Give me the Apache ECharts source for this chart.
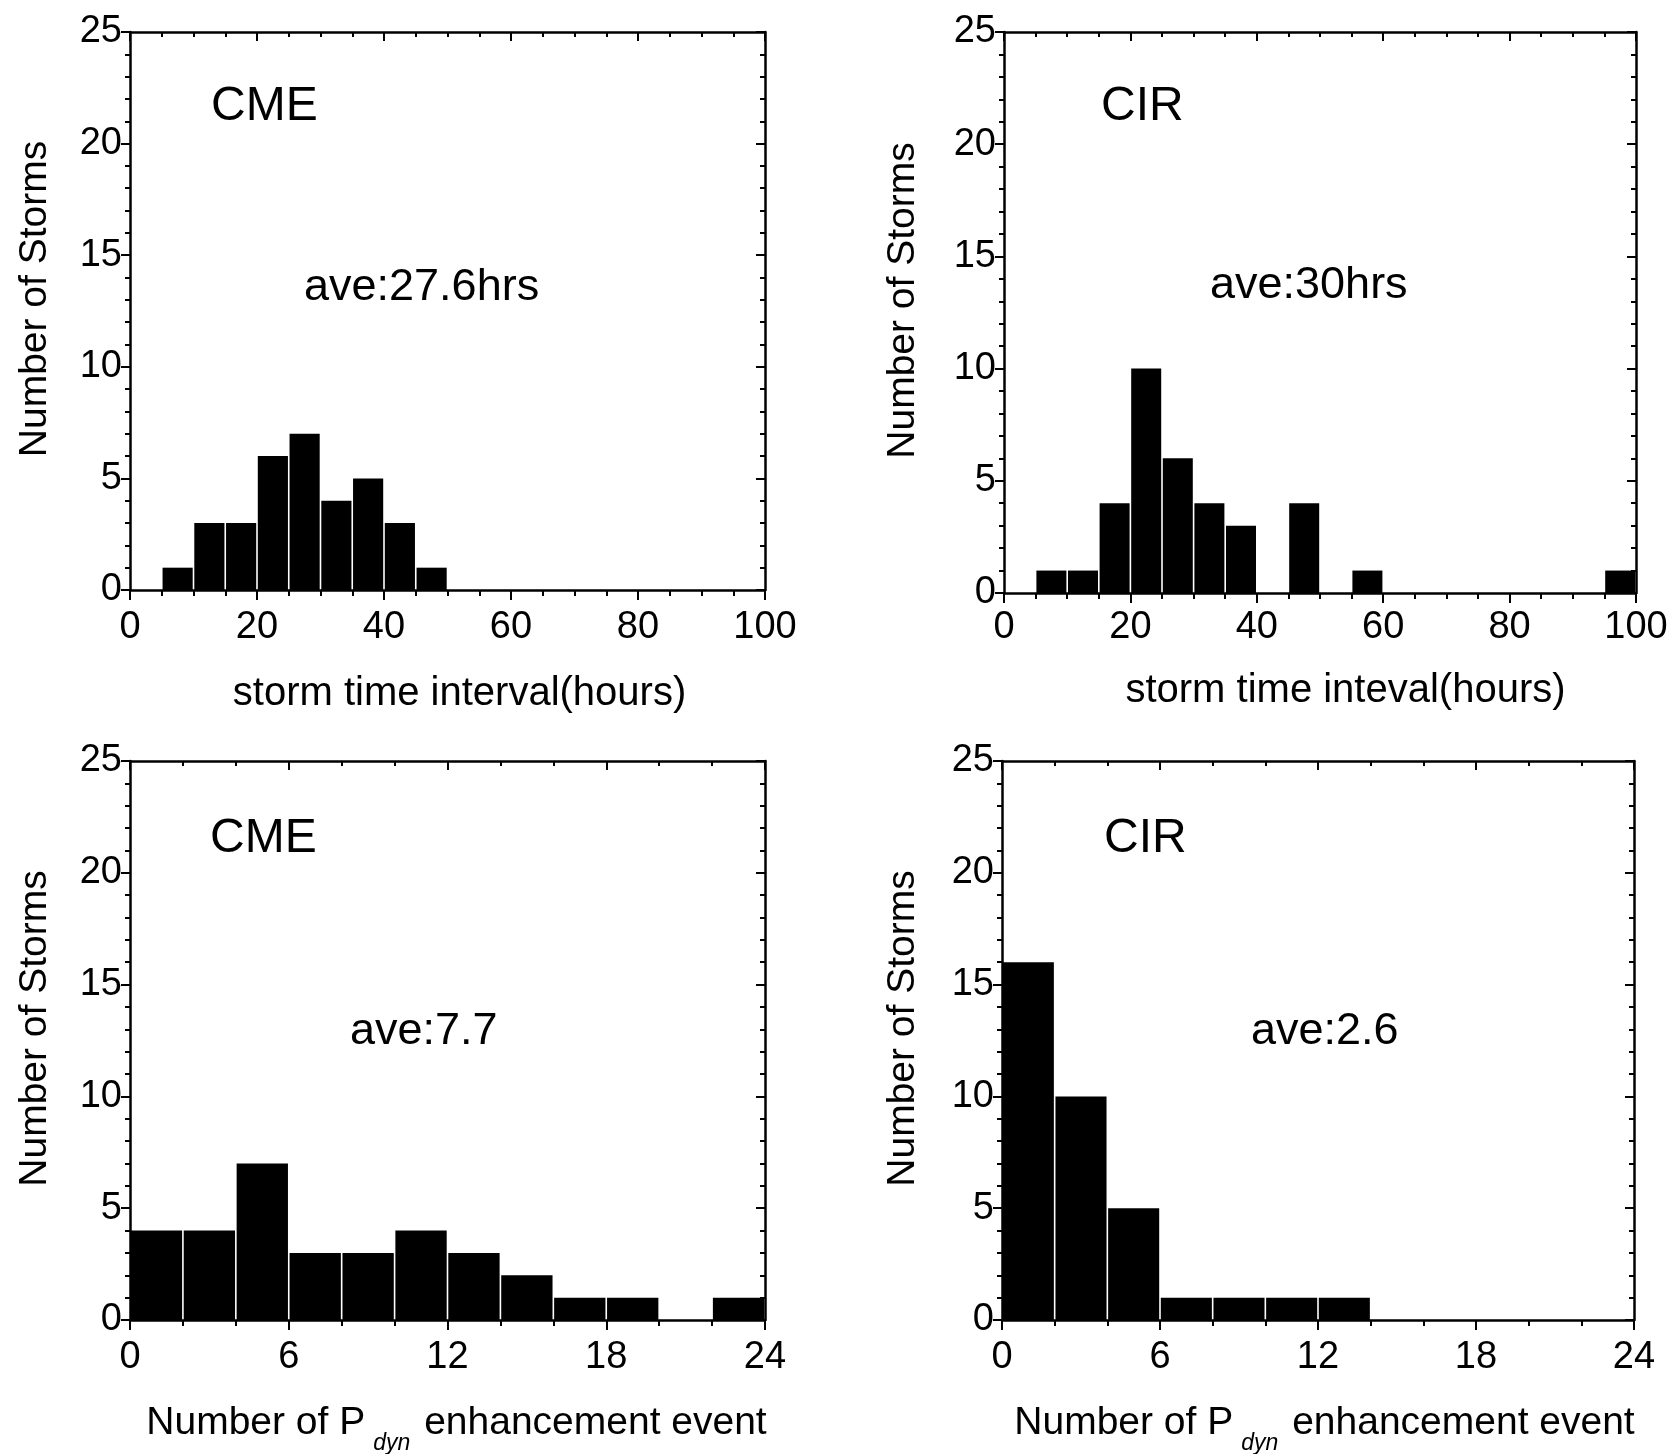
<!DOCTYPE html>
<html><head><meta charset="utf-8">
<script src="https://cdn.jsdelivr.net/npm/echarts@6/dist/echarts.min.js"></script>
<style>html,body{margin:0;padding:0;background:#fff}#c{width:1672px;height:1454px}</style>
</head><body><div id="c"></div><script>
// ---- data ----
const intervalBinStarts = [0,5,10,15,20,25,30,35,40,45,50,55,60,65,70,75,80,85,90,95];
const intervalBinWidth = 5;
const cmeIntervalCounts = [0,1,3,3,6,7,4,5,3,1,0,0,0,0,0,0,0,0,0,0];
const cirIntervalCounts = [0,1,1,4,10,6,4,3,0,4,0,1,0,0,0,0,0,0,0,1];
const pdynBinStarts = [0,2,4,6,8,10,12,14,16,18,20,22];
const pdynBinWidth = 2;
const cmePdynCounts = [4,4,7,3,3,4,3,2,1,1,0,1];
const cirPdynCounts = [16,10,5,1,1,1,1,0,0,0,0,0];
const intervalTicks = [0,20,40,60,80,100];
const pdynTicks = [0,6,12,18,24];
const countTicks = [0,5,10,15,20,25];
const panelTypes = ['CME','CIR','CME','CIR'];
const panelAverages = ['ave:27.6hrs','ave:30hrs','ave:7.7','ave:2.6'];
const xTitles = ['storm time interval(hours)','storm time inteval(hours)',
  '{n|Number of P}{s|dyn}{n| enhancement event}','{n|Number of P}{s|dyn}{n| enhancement event}'];
const yTitle = 'Number of Storms';

// ---- build ----
const FONT = "'Liberation Sans', Arial, Helvetica, sans-serif";
const grids = [
  {left:130, top:32, width:635, height:558, outerBoundsMode:'none', containLabel:false},
  {left:1004, top:32, width:632, height:561, outerBoundsMode:'none', containLabel:false},
  {left:130, top:761, width:635, height:559, outerBoundsMode:'none', containLabel:false},
  {left:1002, top:761, width:632, height:559, outerBoundsMode:'none', containLabel:false}
];
const xNameShift = [24, 51, 18, 13];
const xNameGap = [84, 78, 84, 84];
const xLabelMargin = [19, 16, 19, 19];
const yNameGap = [75, 81, 75, 79];
const panels = [
  {starts:intervalBinStarts, w:intervalBinWidth, counts:cmeIntervalCounts, ticks:intervalTicks, minorSplit:4},
  {starts:intervalBinStarts, w:intervalBinWidth, counts:cirIntervalCounts, ticks:intervalTicks, minorSplit:4},
  {starts:pdynBinStarts, w:pdynBinWidth, counts:cmePdynCounts, ticks:pdynTicks, minorSplit:3},
  {starts:pdynBinStarts, w:pdynBinWidth, counts:cirPdynCounts, ticks:pdynTicks, minorSplit:3}
];
const lineBlack = {color:'#000', width:2.5};
function renderBar(params, api){
  const x0 = api.value(0), x1 = api.value(1), y = api.value(2);
  if (!(y > 0)) return null;
  const p0 = api.coord([x0, y]);
  const p1 = api.coord([x1, 0]);
  const gap = 0.8;
  return {type:'rect', shape:{x:p0[0]+gap, y:p0[1], width:p1[0]-p0[0]-2*gap, height:p1[1]-p0[1]},
    style:{fill:'#000'}};
}
const xAxes = [], yAxes = [], series = [];
panels.forEach((p, i) => {
  const tk = p.ticks;
  const xmin = tk[0], xmax = tk[tk.length-1], xint = tk[1]-tk[0];
  const isPdyn = i >= 2;
  const nameFs = isPdyn ? 39 : 40;
  xAxes.push({
    type:'value', gridIndex:i, position:'bottom', min:xmin, max:xmax, interval:xint,
    axisLine:{show:true, onZero:false, lineStyle:lineBlack},
    axisTick:{show:true, inside:false, length:10, lineStyle:{color:'#000', width:2}},
    minorTick:{show:true, splitNumber:p.minorSplit, length:6, lineStyle:{color:'#000', width:2}},
    splitLine:{show:false},
    axisLabel:{color:'#000', fontSize:38, fontFamily:FONT, margin:xLabelMargin[i]},
    name:xTitles[i], nameLocation:'middle', nameGap:xNameGap[i],
    nameTextStyle:{color:'#000', fontSize:nameFs, fontFamily:FONT, padding:[0,0,0,xNameShift[i]],
      rich:{n:{fontSize:nameFs, fontFamily:FONT, color:'#000'},
            s:{fontSize:23, fontFamily:FONT, fontStyle:'italic', color:'#000', verticalAlign:'bottom', padding:[0,3,-12,8]}}}
  });
  xAxes.push({
    type:'value', gridIndex:i, position:'top', min:xmin, max:xmax, interval:xint,
    axisLine:{show:true, onZero:false, lineStyle:lineBlack},
    axisTick:{show:true, inside:true, length:9, lineStyle:{color:'#000', width:2}},
    minorTick:{show:true, splitNumber:p.minorSplit, length:5, lineStyle:{color:'#000', width:2}},
    splitLine:{show:false}, axisLabel:{show:false}
  });
  yAxes.push({
    type:'value', gridIndex:i, position:'left', min:countTicks[0], max:countTicks[countTicks.length-1],
    interval:countTicks[1]-countTicks[0],
    axisLine:{show:true, onZero:false, lineStyle:lineBlack},
    axisTick:{show:true, inside:false, length:9, lineStyle:{color:'#000', width:2}},
    minorTick:{show:true, splitNumber:5, length:5, lineStyle:{color:'#000', width:2}},
    splitLine:{show:false},
    axisLabel:{color:'#000', fontSize:38, fontFamily:FONT, margin:8},
    name:yTitle, nameLocation:'middle', nameGap:yNameGap[i], nameRotate:90,
    nameTextStyle:{color:'#000', fontSize:39, fontFamily:FONT, padding:[0,0,0,24]}
  });
  yAxes.push({
    type:'value', gridIndex:i, position:'right', min:countTicks[0], max:countTicks[countTicks.length-1],
    interval:countTicks[1]-countTicks[0],
    axisLine:{show:true, onZero:false, lineStyle:lineBlack},
    axisTick:{show:true, inside:true, length:9, lineStyle:{color:'#000', width:2}},
    minorTick:{show:true, splitNumber:5, length:5, lineStyle:{color:'#000', width:2}},
    splitLine:{show:false}, axisLabel:{show:false}
  });
  series.push({
    type:'custom', xAxisIndex:2*i, yAxisIndex:2*i, renderItem:renderBar,
    encode:{x:[0,1], y:2},
    data:p.starts.map((s, k) => [s, s + p.w, p.counts[k]]),
    z:1, silent:true
  });
});
const labelPos = [
  {t:[211,107], a:[304,288]},
  {t:[1101,107], a:[1210,286]},
  {t:[210,839], a:[350,1032]},
  {t:[1104,839], a:[1251,1032]}
];
const graphic = [];
labelPos.forEach((lp, i) => {
  graphic.push({type:'text', x:lp.t[0], y:lp.t[1],
    style:{text:panelTypes[i], font:'48px ' + FONT, fill:'#000', textAlign:'left', textVerticalAlign:'middle', align:'left', verticalAlign:'middle'}});
  graphic.push({type:'text', x:lp.a[0], y:lp.a[1],
    style:{text:panelAverages[i], font:'45px ' + FONT, fill:'#000', textAlign:'left', textVerticalAlign:'middle', align:'left', verticalAlign:'middle'}});
});
const chart = echarts.init(document.getElementById('c'), null, {renderer:'canvas'});
chart.setOption({
  backgroundColor:'#fff', animation:false,
  grid:grids, xAxis:xAxes, yAxis:yAxes, series:series, graphic:graphic
});
</script></body></html>
